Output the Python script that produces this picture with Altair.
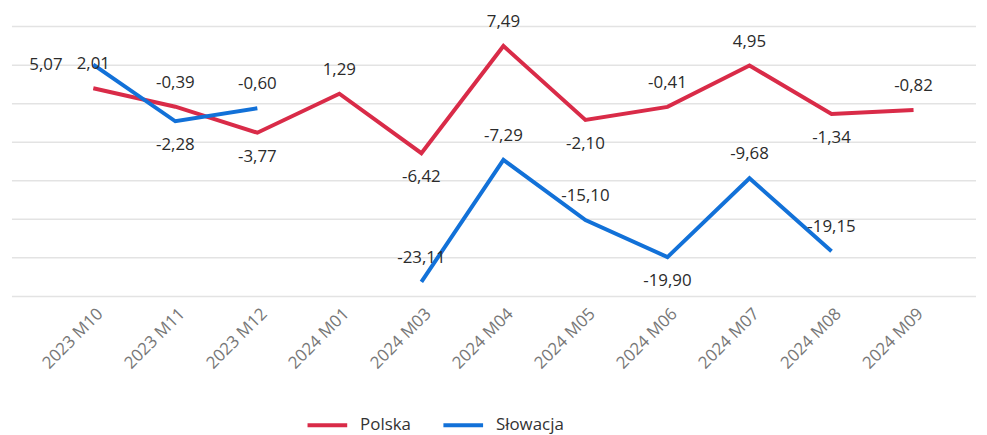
import altair as alt
import pandas as pd

months = ["2023 M10", "2023 M11", "2023 M12", "2024 M01", "2024 M03", "2024 M04",
          "2024 M05", "2024 M06", "2024 M07", "2024 M08", "2024 M09"]
polska = [2.01, -0.39, -3.77, 1.29, -6.42, 7.49, -2.10, -0.41, 4.95, -1.34, -0.82]
slowacja = [5.07, -2.28, -0.60, None, -23.11, -7.29, -15.10, -19.90, -9.68, -19.15, None]
# label placement relative to the point
polska_pos = ["above", "above", "below", "above", "below", "above", "below", "above", "above", "below", "above"]
slowacja_pos = ["left", "below", "above", "none", "above", "above", "above", "below", "above", "above", "none"]
y_ticks = [-25, -20, -15, -10, -5, 0, 5, 10]

series = ["Polska", "Słowacja"]
colors = ["#D92B48", "#1271D8"]


def fmt(v):
    return None if v is None else f"{v:.2f}".replace(".", ",")


rows = []
for m, v, p in zip(months, polska, polska_pos):
    rows.append({"month": m, "series": "Polska", "value": v, "pos": p, "label": fmt(v)})
for m, v, p in zip(months, slowacja, slowacja_pos):
    rows.append({"month": m, "series": "Słowacja", "value": v, "pos": p, "label": fmt(v)})
df = pd.DataFrame(rows)

FONT = "Open Sans"
W, H = 972, 272

x = alt.X("month:O", sort=months, title=None,
          scale=alt.Scale(type="point", range=[82, 909], padding=0),
          axis=alt.Axis(labelAngle=-45, labelFontSize=17, labelColor="#777777",
                        labelFont=FONT, domain=False, ticks=False, grid=False,
                        labelPadding=9, labelOffset=1))
y = alt.Y("value:Q", title=None,
          scale=alt.Scale(domain=[-25, 10], nice=False, zero=False),
          axis=None)
color = alt.Color("series:N", title=None,
                  scale=alt.Scale(domain=series, range=colors),
                  legend=alt.Legend(orient="none", legendX=296, legendY=380,
                                    direction="horizontal", symbolType="stroke",
                                    symbolSize=1600, symbolStrokeWidth=4,
                                    labelFontSize=17, labelFont=FONT,
                                    labelColor="#333333", labelOffset=11,
                                    columnPadding=24, padding=0))

grid = alt.Chart(pd.DataFrame({"v": y_ticks})).mark_rule(
    color="#e3e3e3", strokeWidth=1.5).encode(
    y=alt.Y("v:Q", scale=alt.Scale(domain=[-25, 10], nice=False, zero=False), axis=None),
    x=alt.value(0), x2=alt.value(W))

base = alt.Chart(df)

lines = base.mark_line(strokeWidth=4, invalid="break-paths-show-domains").encode(
    x=x, y=y, color=color)

lab = base.transform_filter("isValid(datum.value)")

txt_kw = dict(fontSize=17, font=FONT, color="#2b2b2b", baseline="middle")
enc = dict(x=alt.X("month:O", sort=months), y="value:Q", text="label:N")
above = lab.transform_filter("datum.pos == 'above'").mark_text(dy=-24, **txt_kw).encode(**enc)
below = lab.transform_filter("datum.pos == 'below'").mark_text(dy=24, **txt_kw).encode(**enc)
left = lab.transform_filter("datum.pos == 'left'").mark_text(dx=-31, align="right", **txt_kw).encode(**enc)

chart = alt.layer(grid, lines, above, below, left).properties(
    width=W, height=H,
    background="white",
    padding={"left": 4, "top": 17, "right": 3, "bottom": 138},
    autosize=alt.AutoSizeParams(type="none"),
).configure_view(strokeWidth=0, stroke="transparent")

chart.save("out.html", embed_options={"renderer": "svg", "actions": False})
